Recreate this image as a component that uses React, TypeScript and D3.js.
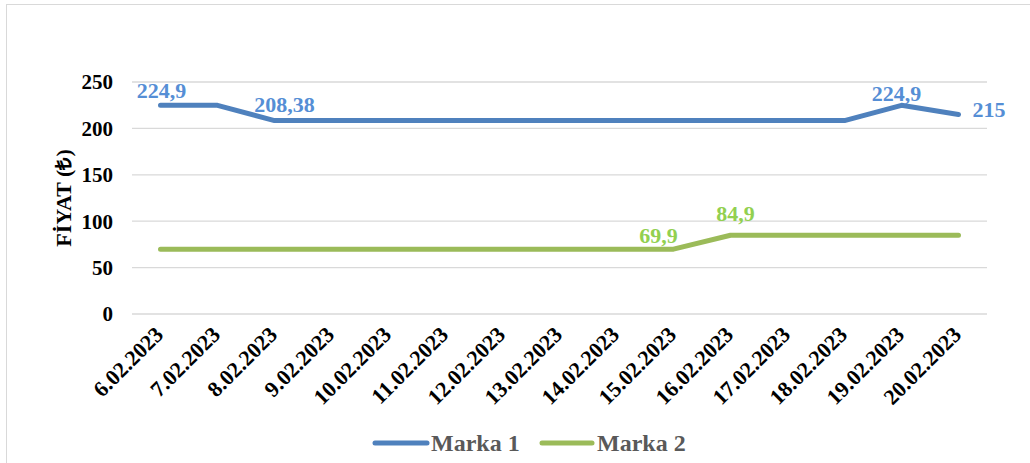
import React from "react";
import * as d3 from "d3";

const categories = ["6.02.2023","7.02.2023","8.02.2023","9.02.2023","10.02.2023","11.02.2023","12.02.2023","13.02.2023","14.02.2023","15.02.2023","16.02.2023","17.02.2023","18.02.2023","19.02.2023","20.02.2023"];
const marka1 = [224.9,224.9,208.38,208.38,208.38,208.38,208.38,208.38,208.38,208.38,208.38,208.38,208.38,224.9,215];
const marka2 = [69.9,69.9,69.9,69.9,69.9,69.9,69.9,69.9,69.9,69.9,84.9,84.9,84.9,84.9,84.9];
const yTicks = [0,50,100,150,200,250];
const labels1 = [
  { i: 0, text: "224,9", dx: 1, dy: -7, anchor: "middle" },
  { i: 2, text: "208,38", dx: 10, dy: -9, anchor: "middle" },
  { i: 13, text: "224,9", dx: -5, dy: -4, anchor: "middle" },
  { i: 14, text: "215", dx: 14, dy: 3, anchor: "start" },
];
const labels2 = [
  { i: 9, text: "69,9", dx: -15, dy: -6, anchor: "middle" },
  { i: 10, text: "84,9", dx: 5, dy: -14, anchor: "middle" },
];

const W = 1030, H = 463;
const BLUE = "#4F81BD", GREEN = "#9BBB59";
const BLUE_T = "#558ED5", GREEN_T = "#92D050";
const FONT = "'Liberation Serif', 'Times New Roman', serif";

export default function App() {
  const x = d3.scaleBand().domain(categories).range([132, 987]);
  const y = d3.scaleLinear().domain([0, 250]).range([314, 82]);
  const cx = (i: number) => (x(categories[i]) as number) + x.bandwidth() / 2;
  const line = d3.line<number>().x((_, i) => cx(i)).y((d) => y(d));

  return (
    <svg width={W} height={H} style={{ position: "absolute", left: 0, top: 0, background: "#fff" }} fontFamily={FONT}>
      <rect x={6.5} y={4.5} width={W + 10} height={H + 10} fill="none" stroke="#D9D9D9" strokeWidth={1} />
      {yTicks.map((t) => (
        <g key={t}>
          <line x1={132} x2={987} y1={y(t)} y2={y(t)} stroke="#D9D9D9" strokeWidth={1.3} />
          <text x={113} y={y(t)} dy="0.35em" textAnchor="end" fontSize={21} fontWeight="bold" fill="#000">{t}</text>
        </g>
      ))}
      <text transform={`translate(63,198) rotate(-90)`} textAnchor="middle" dy="0.35em" fontSize={22} fontWeight="bold" fill="#000">FİYAT (₺)</text>
      {categories.map((c, i) => (
        <text key={c} transform={`translate(${cx(i) + 4},${336}) rotate(-45)`} textAnchor="end" fontSize={22} fontWeight="bold" fill="#000">{c}</text>
      ))}
      <path d={line(marka2) as string} fill="none" stroke={GREEN} strokeWidth={5} strokeLinecap="round" strokeLinejoin="round" />
      <path d={line(marka1) as string} fill="none" stroke={BLUE} strokeWidth={5} strokeLinecap="round" strokeLinejoin="round" />
      {labels1.map((l) => (
        <text key={"a" + l.i} x={cx(l.i) + l.dx} y={y(marka1[l.i]) + l.dy} textAnchor={l.anchor as any} fontSize={22} fontWeight="bold" fill={BLUE_T}>{l.text}</text>
      ))}
      {labels2.map((l) => (
        <text key={"b" + l.i} x={cx(l.i) + l.dx} y={y(marka2[l.i]) + l.dy} textAnchor={l.anchor as any} fontSize={22} fontWeight="bold" fill={GREEN_T}>{l.text}</text>
      ))}
      <g>
        <line x1={375} x2={427} y1={443} y2={443} stroke={BLUE} strokeWidth={5} strokeLinecap="round" />
        <text x={431} y={443} dy="0.35em" fontSize={24} fontWeight="bold" fill="#595959">Marka 1</text>
        <line x1={542} x2={592} y1={443} y2={443} stroke={GREEN} strokeWidth={5} strokeLinecap="round" />
        <text x={597} y={443} dy="0.35em" fontSize={24} fontWeight="bold" fill="#595959">Marka 2</text>
      </g>
    </svg>
  );
}
